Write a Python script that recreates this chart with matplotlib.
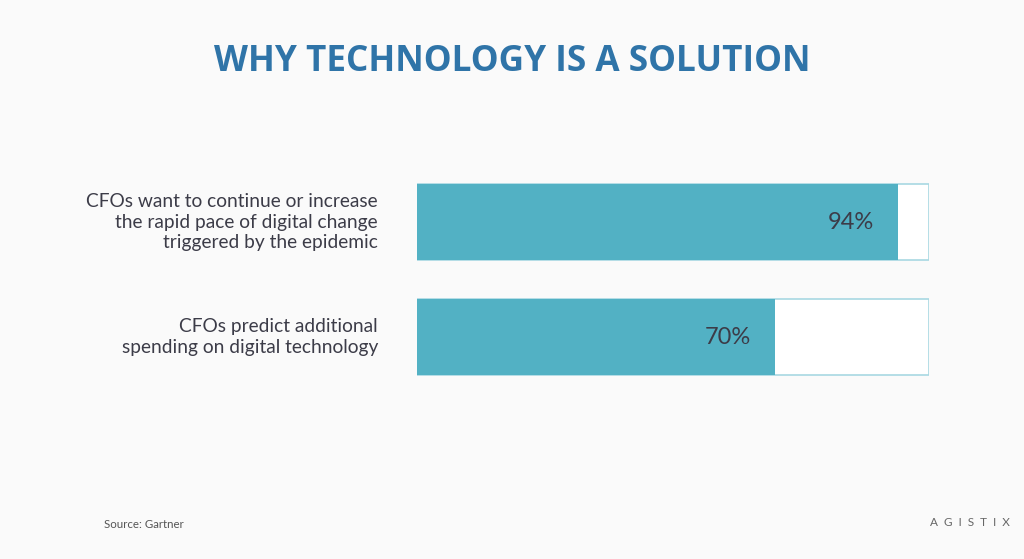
# Why technology is a solution - horizontal progress bars

import matplotlib.pyplot as plt

labels = ["CFOs want to continue or increase\nthe rapid pace of digital change\ntriggered by the epidemic",
          "CFOs predict additional\nspending on digital technology"]
values = [94, 70]
value_text = ["94%", "70%"]

bg = '#fafafa'
teal = '#52b1c4'
edge = '#a8d8e2'
text_col = '#3c3c48'

plt.rcParams['font.family'] = ['Lato', 'DejaVu Sans']

fig = plt.figure(figsize=(10.24, 5.59), dpi=100, facecolor=bg)
ax = fig.add_axes([417 / 1024, 1 - 394.5 / 559, 512 / 1024, 230 / 559])
ax.set_facecolor(bg)

ypos = list(range(len(values)))
ax.barh(ypos, [100] * len(values), height=0.66, color='white', edgecolor=edge, linewidth=1.2)
ax.barh(ypos, values, height=0.66, color=teal, edgecolor='none')

for y, v, t in zip(ypos, values, value_text):
    ax.text(v - 4.8, y, t, ha='right', va='center', fontsize=17, color=text_col)

for y, lab in zip(ypos, labels):
    ax.text(-7.6, y, lab, ha='right', va='center', fontsize=13.8, color=text_col, linespacing=1.25)

ax.set_xlim(0, 100)
ax.set_ylim(1.5, -0.5)
ax.axis('off')

fig.text(0.5, 1 - 62 / 559, "WHY TECHNOLOGY IS A SOLUTION", ha='center', va='center',
         fontsize=25.3, fontweight='bold', color='#2f74a8', family=['Open Sans', 'DejaVu Sans'])
fig.text(104 / 1024, 1 - 524 / 559, "Source: Gartner", ha='left', va='center', fontsize=8.3, color='#555555')
fig.text(1010 / 1024, 1 - 522 / 559, "A  G  I  S  T  I  X", ha='right', va='center', fontsize=8.5, color='#666666')

fig.savefig('out.png', dpi=100, facecolor=bg)
